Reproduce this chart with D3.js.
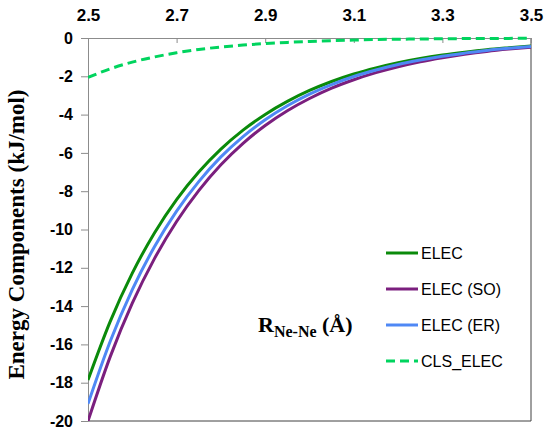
<!DOCTYPE html>
<html>
<head>
<meta charset="utf-8">
<script src="https://cdn.jsdelivr.net/npm/d3@7"></script>
<style>
  body { margin: 0; background: #fff; }
</style>
</head>
<body>
<div id="chart"></div>
<script>
// data
var distances = [2.50, 2.55, 2.60, 2.65, 2.70, 2.75, 2.80, 2.85, 2.90, 2.95, 3.00,
                 3.05, 3.10, 3.15, 3.20, 3.25, 3.30, 3.35, 3.40, 3.45, 3.50];
var elec    = [-17.86, -14.81, -12.28, -10.18, -8.44, -7.00, -5.80, -4.81, -3.99, -3.31, -2.74,
               -2.27, -1.88, -1.56, -1.29, -1.07, -0.89, -0.74, -0.61, -0.51, -0.42];
var elecSO  = [-20.00, -16.65, -13.85, -11.52, -9.58, -7.97, -6.62, -5.50, -4.57, -3.80, -3.16,
               -2.62, -2.18, -1.81, -1.50, -1.24, -1.03, -0.85, -0.70, -0.58, -0.48];
var elecER  = [-19.10, -15.85, -13.14, -10.90, -9.04, -7.50, -6.21, -5.15, -4.27, -3.54, -2.93,
               -2.43, -2.01, -1.67, -1.38, -1.15, -0.95, -0.79, -0.65, -0.54, -0.45];
var clsElec = [-2.06, -1.61, -1.26, -0.99, -0.77, -0.60, -0.47, -0.37, -0.29, -0.23, -0.18,
               -0.14, -0.11, -0.08, -0.065, -0.05, -0.04, -0.03, -0.025, -0.02, -0.015];
var seriesNames = ["ELEC", "ELEC (SO)", "ELEC (ER)", "CLS_ELEC"];
var xTicks = [2.5, 2.7, 2.9, 3.1, 3.3, 3.5];
var yTicks = [0, -2, -4, -6, -8, -10, -12, -14, -16, -18, -20];

var W = 548, H = 431;
var margin = {top: 38, right: 17, bottom: 10, left: 88};
var width = W - margin.left - margin.right,
    height = H - margin.top - margin.bottom;

var svg = d3.select("#chart")
  .append("svg")
  .attr("width", W)
  .attr("height", H)
  .append("g")
  .attr("transform", "translate(" + margin.left + "," + margin.top + ")");

var x = d3.scaleLinear().domain([2.5, 3.5]).range([0, width]);
var y = d3.scaleLinear().domain([-20, 0]).range([height, 0]);

// right + bottom border
svg.append("path")
  .attr("d", "M" + x(2.5) + "," + y(-20) + "H" + x(3.5) + "V" + y(0))
  .attr("fill", "none")
  .attr("stroke", "#404040")
  .attr("stroke-width", 1);

// top axis (x, at y = 0)
var xAxis = svg.append("g")
  .call(d3.axisTop(x).tickValues(xTicks).tickFormat(d3.format(".1f"))
    .tickSizeInner(-5).tickSizeOuter(0).tickPadding(17));
xAxis.select(".domain").attr("stroke", "#8c8c8c");
xAxis.selectAll(".tick line").attr("stroke", "#8c8c8c");
xAxis.selectAll("text")
  .style("font-family", "'Liberation Sans', Arial, sans-serif")
  .style("font-weight", "bold")
  .style("font-size", "17px")
  .attr("fill", "#000");

// left axis
var yAxis = svg.append("g")
  .call(d3.axisLeft(y).tickValues(yTicks).tickFormat(function(d) { return String(d); })
    .tickSizeInner(7).tickSizeOuter(0).tickPadding(8));
yAxis.select(".domain").attr("stroke", "#8c8c8c");
yAxis.selectAll(".tick line").attr("stroke", "#8c8c8c");
yAxis.selectAll("text")
  .style("font-family", "'Liberation Sans', Arial, sans-serif")
  .style("font-weight", "bold")
  .style("font-size", "16px")
  .attr("fill", "#000");

// clip the curves to the plot area
svg.append("clipPath").attr("id", "plotclip")
  .append("rect").attr("x", 0).attr("y", -2).attr("width", width + 2).attr("height", height + 2);

var series = [
  {name: seriesNames[0], values: elec,    color: "#0a8a0a", dash: null},
  {name: seriesNames[1], values: elecSO,  color: "#7b1f7e", dash: null},
  {name: seriesNames[2], values: elecER,  color: "#4f88f5", dash: null},
  {name: seriesNames[3], values: clsElec, color: "#00d45e", dash: "9,5"}
];

var line = d3.line()
  .curve(d3.curveMonotoneX)
  .x(function(d) { return x(d[0]); })
  .y(function(d) { return y(d[1]); });

svg.append("g").attr("clip-path", "url(#plotclip)")
  .selectAll("path")
  .data(series)
  .enter()
  .append("path")
  .attr("d", function(s) { return line(distances.map(function(r, i) { return [r, s.values[i]]; })); })
  .attr("fill", "none")
  .attr("stroke", function(s) { return s.color; })
  .attr("stroke-width", 3)
  .attr("stroke-dasharray", function(s) { return s.dash; });

// legend
var legend = svg.append("g").attr("transform", "translate(298,215)");
var rows = legend.selectAll("g")
  .data(series)
  .enter()
  .append("g")
  .attr("transform", function(d, i) { return "translate(0," + (i * 36) + ")"; });
rows.append("line")
  .attr("x1", 0).attr("x2", 32).attr("y1", 0).attr("y2", 0)
  .attr("stroke", function(d) { return d.color; })
  .attr("stroke-width", 3)
  .attr("stroke-dasharray", function(d) { return d.dash; });
rows.append("text")
  .attr("x", 35)
  .attr("y", 0)
  .attr("dy", "0.35em")
  .style("font-family", "'Liberation Sans', Arial, sans-serif")
  .style("font-size", "16px")
  .attr("fill", "#000")
  .text(function(d) { return d.name; });

// x label
var xl = svg.append("text")
  .attr("x", 170)
  .attr("y", 294)
  .style("font-family", "'Liberation Serif', 'Times New Roman', serif")
  .style("font-weight", "bold")
  .style("font-size", "22px")
  .attr("fill", "#000");
xl.append("tspan").text("R");
xl.append("tspan").attr("dy", 5).style("font-size", "16px").text("Ne-Ne");
xl.append("tspan").attr("dy", -5).text(" (\u00C5)");

// y label
svg.append("text")
  .attr("transform", "translate(-64," + (height / 2 + 5) + ")rotate(-90)")
  .attr("text-anchor", "middle")
  .style("font-family", "'Liberation Serif', 'Times New Roman', serif")
  .style("font-weight", "bold")
  .style("font-size", "23px")
  .attr("fill", "#000")
  .text("Energy Components (kJ/mol)");
</script>
</body>
</html>
